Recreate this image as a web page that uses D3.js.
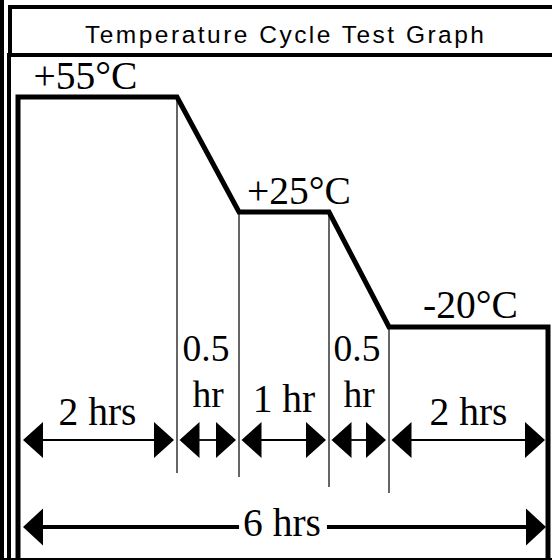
<!DOCTYPE html>
<html><head><meta charset="utf-8">
<script src="https://cdn.jsdelivr.net/npm/d3@7"></script>
<style>body{margin:0;background:#fff}svg{display:block}</style>
</head><body>
<script>
// ---- data ----
const title = "Temperature Cycle Test Graph";
const phaseDurations = [2, 0.5, 1, 0.5, 2];           // hours
const phaseLabels = [["2 hrs"], ["0.5", "hr"], ["1 hr"], ["0.5", "hr"], ["2 hrs"]];
const profileHours = [0, 2, 2.5, 3.5, 4, 6];
const profileTemps = [55, 55, 25, 25, -20, -20];       // °C
const tempLevels = [55, 25, -20];
const tempLabels = ["+55°C", "+25°C", "-20°C"];
const totalLabel = "6 hrs";

// ---- layout ----
const W = 552, H = 560;
const serif = "'Liberation Serif','Times New Roman',serif";
const svg = d3.select("body").append("svg").attr("width", W).attr("height", H);

const bounds = [0, ...Array.from(d3.cumsum(phaseDurations))];   // 0,2,2.5,3.5,4,6
// diagram is not to scale: piecewise scale over phase boundaries
const x = d3.scaleLinear().domain(bounds).range([18, 177, 239, 329, 389, 548]);
const y = d3.scalePoint().domain(tempLevels).range([97, 327]);

// frame
svg.append("line").attr("x1", 2).attr("x2", 2).attr("y1", 0).attr("y2", H)
  .attr("stroke", "#000").attr("stroke-width", 4);
svg.append("path").attr("d", `M${W + 5},7 H10 V55`)
  .attr("fill", "none").attr("stroke", "#000").attr("stroke-width", 4);
svg.append("path").attr("d", `M${W + 5},55 H9 V${H + 5}`)
  .attr("fill", "none").attr("stroke", "#000").attr("stroke-width", 4);
svg.append("line").attr("x1", 0).attr("x2", W).attr("y1", H - 1).attr("y2", H - 1)
  .attr("stroke", "#000").attr("stroke-width", 2);

svg.append("text").attr("x", 284.5).attr("y", 43).attr("text-anchor", "middle")
  .attr("font-family", "'Liberation Sans',Arial,sans-serif").attr("font-size", 24.5)
  .attr("textLength", 399).attr("lengthAdjust", "spacing")
  .attr("fill", "#000").text(title);

// thin phase dividers
const dividerBottoms = [473, 477, 487, 493];
bounds.slice(1, -1).forEach((b, i) => {
  const t = profileTemps[profileHours.indexOf(b)];
  svg.append("line").attr("x1", x(b)).attr("x2", x(b))
    .attr("y1", y(t)).attr("y2", dividerBottoms[i])
    .attr("stroke", "#333").attr("stroke-width", 1.5);
});

// profile line
const pts = profileHours.map((h, i) => [x(h), y(profileTemps[i])]);
pts.unshift([x(profileHours[0]), H + 10]);
pts.push([x(profileHours[profileHours.length - 1]), H + 10]);
svg.append("path").attr("d", d3.line()(pts)).attr("fill", "none")
  .attr("stroke", "#000").attr("stroke-width", 5).attr("stroke-linejoin", "miter");

// temperature labels
const tempNudge = [-12, 15, 2];
const tempBaseGap = [8, 8, 9];
tempLevels.forEach((t, i) => {
  const idx = profileTemps.indexOf(t);
  const cx = (x(profileHours[idx]) + x(profileHours[idx + 1])) / 2 + tempNudge[i];
  svg.append("text").attr("x", cx).attr("y", y(t) - tempBaseGap[i])
    .attr("text-anchor", "middle").attr("font-family", serif).attr("font-size", 39.5)
    .attr("fill", "#000").text(tempLabels[i]);
});

// arrows
function arrow(x0, x1, yy, hw, hh, sw) {
  const g = svg.append("g");
  g.append("line").attr("x1", x0 + hw - 1).attr("x2", x1 - hw + 1).attr("y1", yy).attr("y2", yy)
    .attr("stroke", "#000").attr("stroke-width", sw);
  g.append("path").attr("d", `M${x0},${yy} L${x0 + hw},${yy - hh / 2} L${x0 + hw},${yy + hh / 2}Z`).attr("fill", "#000");
  g.append("path").attr("d", `M${x1},${yy} L${x1 - hw},${yy - hh / 2} L${x1 - hw},${yy + hh / 2}Z`).attr("fill", "#000");
  return g;
}
const arrowY = 440;
phaseDurations.forEach((d, i) => {
  const a = x(bounds[i]) + (i === 0 ? 5 : 2.5), b = x(bounds[i + 1]) - 3;
  arrow(a, b, arrowY, 20, 36, 1.8);
  const cx = (x(bounds[i]) + x(bounds[i + 1])) / 2;
  const lines = phaseLabels[i];
  if (lines.length === 2) {
    svg.append("text").attr("x", cx - 2).attr("y", 361).attr("text-anchor", "middle")
      .attr("font-family", serif).attr("font-size", 37.5).attr("fill", "#000").text(lines[0]);
    svg.append("text").attr("x", cx).attr("y", 407).attr("text-anchor", "middle")
      .attr("font-family", serif).attr("font-size", 37.5).attr("fill", "#000").text(lines[1]);
  } else {
    svg.append("text").attr("x", cx).attr("y", d === 1 ? 412 : 425).attr("text-anchor", "middle")
      .attr("font-family", serif).attr("font-size", 39.5).attr("fill", "#000").text(lines[0]);
  }
});

// total arrow
const totY = 527;
const tcx = (x(0) + x(6)) / 2 - 1;
const tl = svg.append("text").attr("x", tcx).attr("y", 536).attr("text-anchor", "middle")
  .attr("font-family", serif).attr("font-size", 39.5).attr("fill", "#000").text(totalLabel);
const tb = tl.node().getBBox();
const L = x(0) + 5, R = x(6) - 2;
svg.append("line").attr("x1", L + 18).attr("x2", tb.x - 4).attr("y1", totY).attr("y2", totY)
  .attr("stroke", "#000").attr("stroke-width", 4);
svg.append("line").attr("x1", tb.x + tb.width + 6).attr("x2", R - 18).attr("y1", totY).attr("y2", totY)
  .attr("stroke", "#000").attr("stroke-width", 4);
svg.append("path").attr("d", `M${L},${totY} L${L + 20},${totY - 18.5} L${L + 20},${totY + 18.5}Z`).attr("fill", "#000");
svg.append("path").attr("d", `M${R},${totY} L${R - 20},${totY - 18.5} L${R - 20},${totY + 18.5}Z`).attr("fill", "#000");
</script>
</body></html>
